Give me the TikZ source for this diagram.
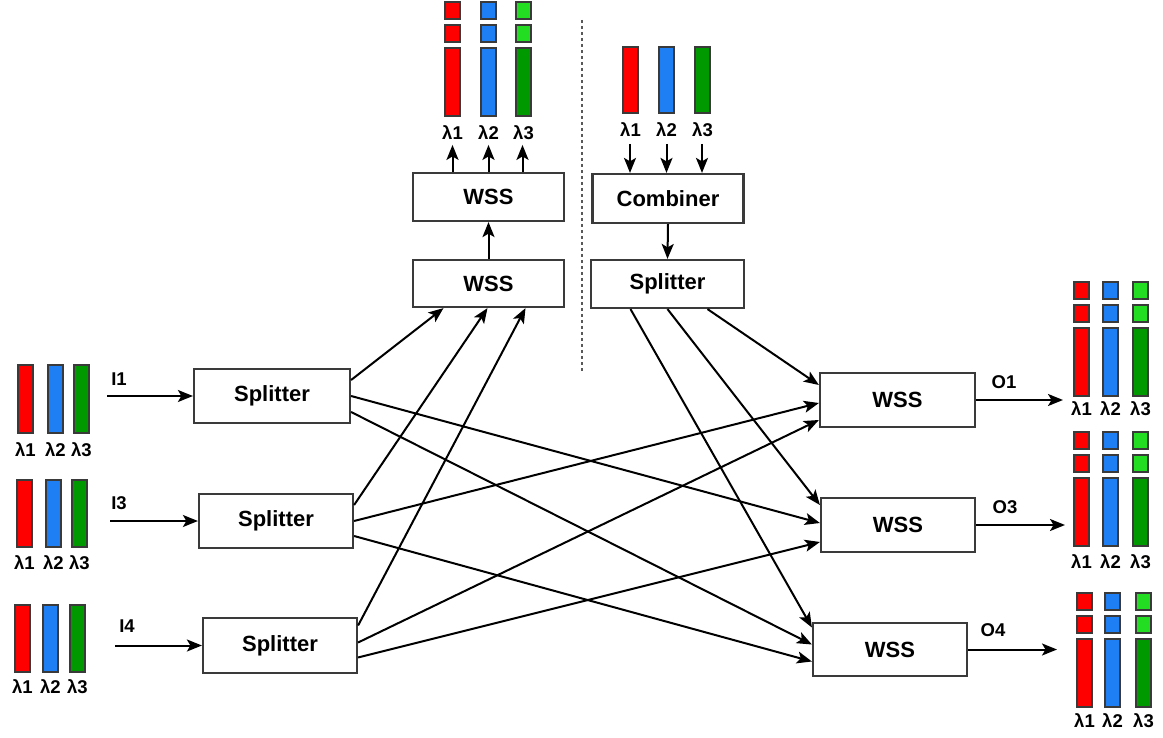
\documentclass[tikz,border=0pt]{standalone}
\usepackage{fontspec}
\setmainfont{Liberation Sans}
\usetikzlibrary{calc,arrows.meta}

\definecolor{wred}{HTML}{FF0000}
\definecolor{wblue}{HTML}{1E7FF5}
\definecolor{wgreen}{HTML}{009A00}
\definecolor{wlgreen}{HTML}{22DD22}
\definecolor{edge}{HTML}{3A3A3A}

\tikzset{
  blk/.style={draw=edge, line width=2.2pt, fill=white, inner sep=0pt,
              font=\fontsize{22}{25}\selectfont\bfseries},
  arr/.style={-{Stealth[length=15pt,width=12pt,inset=3.5pt]}, line width=2pt, black},
  barline/.style={draw=edge, line width=1.5pt},
  lam/.style={font=\fontsize{18.5}{20}\selectfont\bfseries, inner sep=0pt},
  port/.style={font=\fontsize{18.5}{20}\selectfont\bfseries, inner sep=0pt},
  divider/.style={draw=gray!70!black, line width=2pt, dash pattern=on 3pt off 3pt}
}

% three single-colour channel bars with their wavelength labels
% #1 prefix, #2/#3/#4 left x of red/blue/green, #5 top, #6 bottom, #7 label y
\newcommand{\plainbars}[7]{%
  \foreach \xx/\cc/\nn in {#2/wred/1,#3/wblue/2,#4/wgreen/3}{
    \draw[barline, fill=\cc] (\xx,#5) rectangle ++(15,#6-#5);
    \node[lam] (#1-l\nn) at (\xx+7.5,#7) {λ\nn};
  }}

% three channel bars split into two short slots and one long slot
% #1 prefix, #2/#3/#4 left x of red/blue/green, #5 top, #6 label y
\newcommand{\segbars}[6]{%
  \foreach \xx/\cc/\ss/\nn in {#2/wred/wred/1,#3/wblue/wblue/2,#4/wgreen/wlgreen/3}{
    \draw[barline, fill=\ss] (\xx,#5) rectangle ++(15,17);
    \draw[barline, fill=\ss] (\xx,#5+23) rectangle ++(15,17);
    \draw[barline, fill=\cc] (\xx,#5+46) rectangle ++(15,68);
    \node[lam] (#1-l\nn) at (\xx+7.5,#6) {λ\nn};
  }}

\begin{document}
\begin{tikzpicture}[x=1pt,y=-1pt]
\useasboundingbox (0,0) rectangle (1163,738);

% ---- drop side (top left) ----
\segbars{drop}{445}{481}{516}{2}{133}
\node[blk, minimum width=151pt, minimum height=48pt] (wssA) at (488.5,197) {WSS};
\node[blk, minimum width=151pt, minimum height=47pt] (wssB) at (488.5,283.5) {WSS};
\draw[arr] (wssB.north) -- (wssA.north |- wssA.south);
\foreach \dx/\k in {-36/1,0/2,34/3}{
  \coordinate (dt\k) at ($(wssA.north)+(\dx,-27)$);
  \draw[arr] ($(wssA.north)+(\dx,0)$) -- (dt\k);
}

% ---- separator ----
\coordinate (sepA) at (582,20);
\coordinate (sepB) at (582,372);
\draw[divider] (sepA) -- (sepB);

% ---- add side (top right) ----
\plainbars{add}{623}{659}{695}{47}{113}{130}
\node[blk, minimum width=151pt, minimum height=49pt] (comb) at (668,198.5) {Combiner};
\node[blk, minimum width=153pt, minimum height=48pt] (splT) at (667.5,284) {Splitter};
\foreach \xx/\k in {630/1,666.5/2,702/3}{
  \coordinate (as\k) at (\xx,144);
  \draw[arr] (as\k) -- (as\k |- comb.north);
}
\draw[arr] (comb.south) -- (splT.north);

% ---- input splitters ----
\plainbars{in1bars}{18}{48}{74}{365}{433}{450}
\plainbars{in3bars}{17}{46}{72}{480}{547}{563}
\plainbars{in4bars}{15}{43}{70}{605}{672}{687}

\node[blk, minimum width=156pt, minimum height=54pt] (spl1) at (272,396) {Splitter};
\node[blk, minimum width=154pt, minimum height=54pt] (spl2) at (276,521) {Splitter};
\node[blk, minimum width=154pt, minimum height=55pt] (spl3) at (280,645.5) {Splitter};

\coordinate (in1) at (107,396);
\coordinate (in3) at (110,521);
\coordinate (in4) at (115,645.5);
\draw[arr] (in1) -- (spl1.west);
\draw[arr] (in3) -- (spl2.west);
\draw[arr] (in4) -- (spl3.west);
\node[port] (lbI1) at (119,379) {I1};
\node[port] (lbI3) at (119,503) {I3};
\node[port] (lbI4) at (127,626) {I4};

% ---- output WSS ----
\node[blk, minimum width=155pt, minimum height=54pt] (wss1) at (897.5,400) {WSS};
\node[blk, minimum width=154pt, minimum height=54pt] (wss3) at (898,525) {WSS};
\node[blk, minimum width=154pt, minimum height=53pt] (wss4) at (890,649.5) {WSS};

\coordinate (out1) at (1063,400);
\coordinate (out3) at (1065,525);
\coordinate (out4) at (1057,649.5);
\draw[arr] (wss1.east) -- (out1);
\draw[arr] (wss3.east) -- (out3);
\draw[arr] (wss4.east) -- (out4);
\node[port] (lbO1) at (1004,382) {O1};
\node[port] (lbO3) at (1005,507) {O3};
\node[port] (lbO4) at (993,630) {O4};

\segbars{o1bars}{1074}{1103}{1133}{282}{409}
\segbars{o3bars}{1074}{1103}{1133}{432}{562}
\segbars{o4bars}{1077}{1105}{1136}{593}{721}

% ---- mesh of splitter outputs ----
% splitter 1
\draw[arr] ($(spl1.east)+(0,-16)$) -- ($(wssB.south)+(-45,0)$);
\draw[arr] ($(spl1.east)+(0,0)$)   -- ($(wss3.west)+(0,-2)$);
\draw[arr] ($(spl1.east)+(0,16)$)  -- ($(wss4.west)+(0,-5)$);
% splitter 3
\draw[arr] ($(spl2.east)+(0,-16)$) -- ($(wssB.south)+(-1,0)$);
\draw[arr] ($(spl2.east)+(0,0)$)   -- ($(wss1.west)+(0,3)$);
\draw[arr] ($(spl2.east)+(0,15)$)  -- ($(wss4.west)+(0,12)$);
% splitter 4
\draw[arr] ($(spl3.east)+(0,-20)$) -- ($(wssB.south)+(37,0)$);
\draw[arr] ($(spl3.east)+(0,-3)$)  -- ($(wss1.west)+(0,20)$);
\draw[arr] ($(spl3.east)+(0,12)$)  -- ($(wss3.west)+(0,17)$);
% add splitter
\draw[arr] ($(splT.south)+(-37,0)$) -- ($(wss4.west)+(0,-22)$);
\draw[arr] ($(splT.south)+(0,0)$)   -- ($(wss3.west)+(0,-20)$);
\draw[arr] ($(splT.south)+(40,0)$)  -- ($(wss1.west)+(0,-15)$);
\end{tikzpicture}
\end{document}
